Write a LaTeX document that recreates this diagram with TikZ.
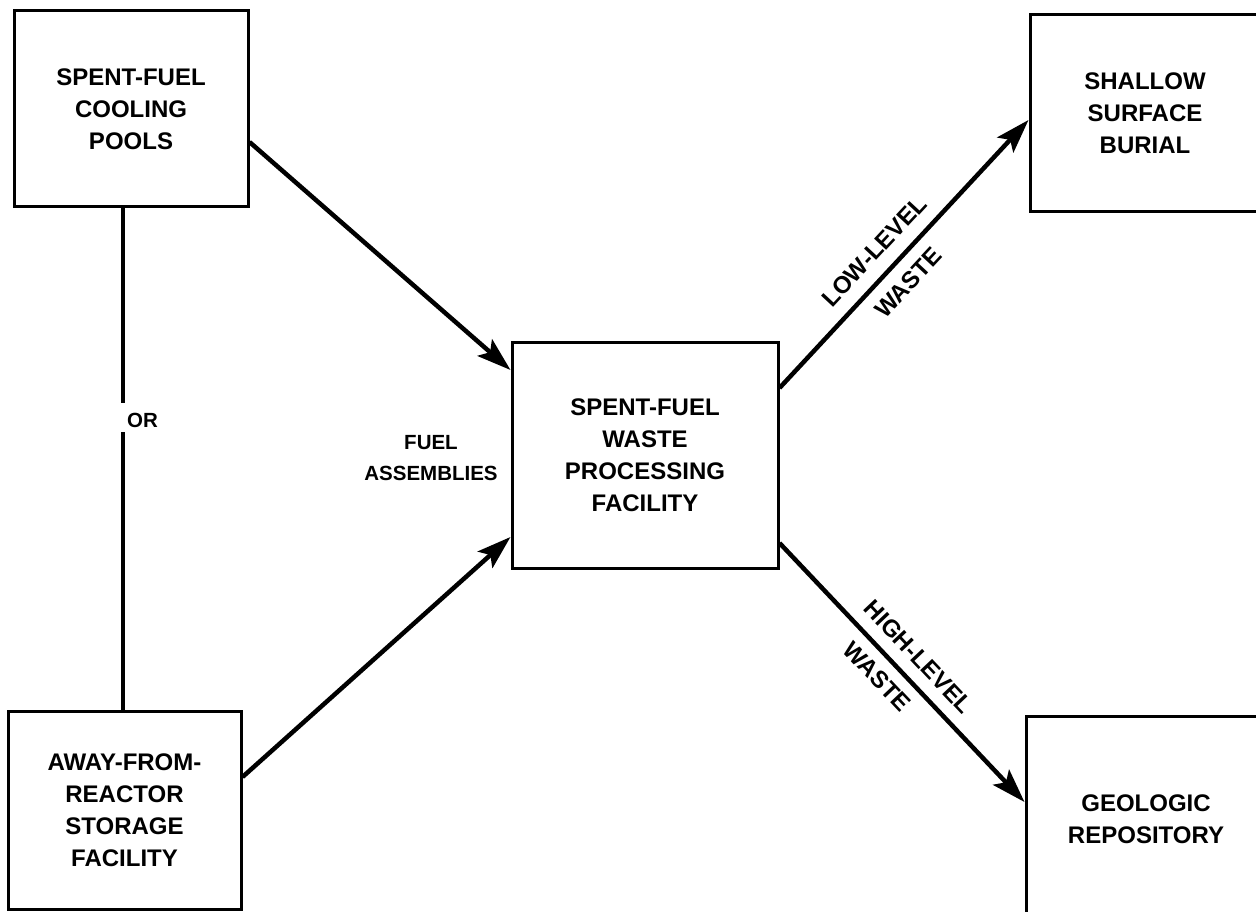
\documentclass[tikz,border=0pt]{standalone}
\usepackage{fontspec}
\setmainfont{Liberation Sans}
\usetikzlibrary{arrows.meta}
\newcommand\boxfont{\bfseries\fontsize{24}{32}\selectfont}
\newcommand\smallfont{\bfseries\fontsize{20.5}{31}\selectfont}
\begin{document}
\begin{tikzpicture}[x=1pt,y=-1pt,
  box/.style={draw, line width=3pt, inner sep=0pt, align=center, font=\boxfont},
  conn/.style={line width=4.5pt},
  orline/.style={line width=4pt},
  arr/.style={conn, -{Stealth[length=34pt,width=22pt,inset=7pt]}},
  lbl/.style={font=\boxfont, inner sep=0pt, align=center},
  slbl/.style={font=\smallfont, inner sep=0pt, align=center}]
\useasboundingbox (0,0) rectangle (1256,912);
\clip (0,0) rectangle (1256,912);
\fill[white] (0,0) rectangle (1256,912);

\node[box, minimum width=234pt, minimum height=196pt] (A) at (131,109)
  {SPENT-FUEL\\COOLING\\POOLS};
\node[box, minimum width=233pt, minimum height=198pt] (B) at (124.5,810)
  {AWAY-FROM-\\REACTOR\\STORAGE\\FACILITY};
\node[box, minimum width=266pt, minimum height=226pt] (C) at (645,455)
  {SPENT-FUEL\\WASTE\\PROCESSING\\FACILITY};
\node[box, minimum width=230pt, minimum height=197pt] (S) at (1145,113.5)
  {SHALLOW\\SURFACE\\BURIAL};
\node[box, minimum width=240pt, minimum height=206pt] (G) at (1146,819)
  {GEOLOGIC\\REPOSITORY};

% OR connector
\coordinate (or1) at (123,403);
\coordinate (or2) at (123,432);
\draw[orline] (A.south -| or1) -- (or1);
\draw[orline] (or2) -- (B.north -| or2);
\node[slbl, anchor=west] (or) at (127,420) {OR};

\node[slbl] (fa) at (431,458) {FUEL\\ASSEMBLIES};

% arrows into processing facility
\draw[arr] ([yshift=-33pt]A.east) -- ([yshift=85pt]C.west);
\draw[arr] ([yshift=33pt]B.east) -- ([yshift=-82pt]C.west);

% arrows out
\draw[arr] ([yshift=67pt]C.east) -- ([yshift=-6.5pt]S.west)
  node[lbl, pos=0.45, sloped, above=13pt] (ll) {LOW-LEVEL}
  node[lbl, pos=0.45, sloped, below=12pt] (lw) {WASTE};
\draw[arr] ([yshift=-88pt]C.east) -- ([yshift=17pt]G.west)
  node[lbl, pos=0.50, sloped, above=12pt] (hl) {HIGH-LEVEL}
  node[lbl, pos=0.46, sloped, below=10.5pt] (hw) {WASTE};
\end{tikzpicture}
\end{document}
